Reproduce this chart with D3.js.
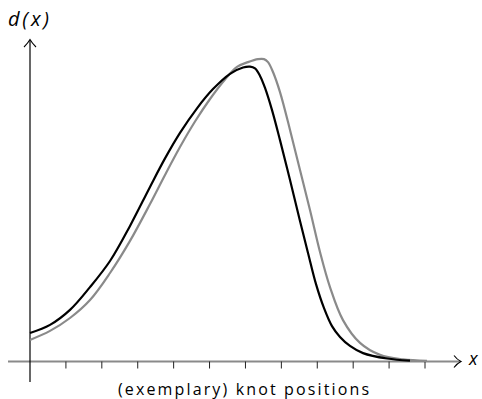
<!DOCTYPE html>
<html>
<head>
<meta charset="utf-8">
<script src="https://cdn.jsdelivr.net/npm/d3@7"></script>
<style>
  body { margin: 0; background: #fff; }
  svg { display: block; }
  text { font-family: "Open Sans", "DejaVu Sans", sans-serif; fill: #000; }
</style>
</head>
<body>
<div id="chart"></div>
<script>
// Curve values (x in knot units, d normalised to the peak)
const knots = [1, 2, 3, 4, 5, 6, 7, 8, 9, 10, 11];

const blackX = [0, 0.557, 1.114, 1.671, 2.228, 2.785, 3.342, 3.760, 4.177, 4.651, 5.096, 5.570, 5.932, 6.127, 6.266, 6.406, 6.545, 6.740, 6.962, 7.241, 7.519, 7.742, 7.965, 8.188, 8.410, 8.633, 8.911, 9.274, 9.942, 10.582];
const blackD = [0.095, 0.122, 0.172, 0.248, 0.335, 0.452, 0.582, 0.677, 0.762, 0.844, 0.908, 0.959, 0.980, 0.983, 0.977, 0.952, 0.912, 0.838, 0.738, 0.605, 0.468, 0.362, 0.258, 0.178, 0.118, 0.082, 0.052, 0.028, 0.010, 0.003];

const grayX = [0, 0.557, 1.114, 1.671, 2.228, 2.785, 3.342, 3.760, 4.177, 4.595, 5.013, 5.431, 5.765, 6.071, 6.349, 6.516, 6.628, 6.767, 6.962, 7.241, 7.519, 7.797, 8.076, 8.354, 8.716, 9.190, 9.747, 10.387, 11.056];
const grayD = [0.072, 0.102, 0.145, 0.205, 0.295, 0.402, 0.525, 0.622, 0.715, 0.800, 0.875, 0.940, 0.982, 0.998, 1.008, 1.008, 0.998, 0.965, 0.898, 0.772, 0.638, 0.505, 0.365, 0.248, 0.138, 0.062, 0.022, 0.007, 0.002];

const width = 482;
const height = 399;

const svg = d3.select('#chart')
  .append('svg')
  .attr('width', width)
  .attr('height', height);

// scales: knot 0 sits on the y axis
const x = d3.scaleLinear().domain([0, 11]).range([30, 425]);
const y = d3.scaleLinear().domain([0, 1]).range([361.5, 61.5]);

// x axis (gray line with open arrow)
svg.append('line')
  .attr('x1', 8).attr('x2', 460)
  .attr('y1', y(0)).attr('y2', y(0))
  .attr('stroke', '#8a8a8a')
  .attr('stroke-width', 1.8);
svg.append('path')
  .attr('d', `M${454},${y(0) - 6} Q${457},${y(0) - 2} ${461},${y(0)} Q${457},${y(0) + 2} ${454},${y(0) + 6}`)
  .attr('fill', 'none')
  .attr('stroke', '#000')
  .attr('stroke-width', 1.1);

// ticks
svg.selectAll('.tick')
  .data(knots)
  .enter()
  .append('line')
  .attr('x1', (d) => x(d)).attr('x2', (d) => x(d))
  .attr('y1', y(0)).attr('y2', y(0) + 7)
  .attr('stroke', '#222')
  .attr('stroke-width', 1);

// y axis (black line with open arrow)
svg.append('line')
  .attr('x1', x(0)).attr('x2', x(0))
  .attr('y1', 382).attr('y2', 40)
  .attr('stroke', '#000')
  .attr('stroke-width', 1.2);
svg.append('path')
  .attr('d', `M${x(0) - 6},${47} Q${x(0) - 2},${43} ${x(0)},${39.5} Q${x(0) + 2},${43} ${x(0) + 6},${47}`)
  .attr('fill', 'none')
  .attr('stroke', '#000')
  .attr('stroke-width', 1.1);

// curves
const line = d3.line()
  .x((d) => x(d[0]))
  .y((d) => y(d[1]))
  .curve(d3.curveCatmullRom.alpha(0.5));

svg.append('path')
  .datum(d3.zip(grayX, grayD))
  .attr('d', line)
  .attr('fill', 'none')
  .attr('stroke', '#8a8a8a')
  .attr('stroke-width', 2.2);

svg.append('path')
  .datum(d3.zip(blackX, blackD))
  .attr('d', line)
  .attr('fill', 'none')
  .attr('stroke', '#000')
  .attr('stroke-width', 2.2);

// labels
svg.append('text')
  .attr('x', 8).attr('y', 26)
  .attr('textLength', 41)
  .attr('lengthAdjust', 'spacing')
  .style('font-size', '20px')
  .style('font-style', 'italic')
  .text('d(x)');

svg.append('text')
  .attr('x', 469).attr('y', 365)
  .style('font-size', '18px')
  .style('font-style', 'italic')
  .text('x');

svg.append('text')
  .attr('x', 118).attr('y', 395)
  .attr('textLength', 251)
  .attr('lengthAdjust', 'spacing')
  .style('font-size', '16px')
  .text('(exemplary) knot positions');
</script>
</body>
</html>
